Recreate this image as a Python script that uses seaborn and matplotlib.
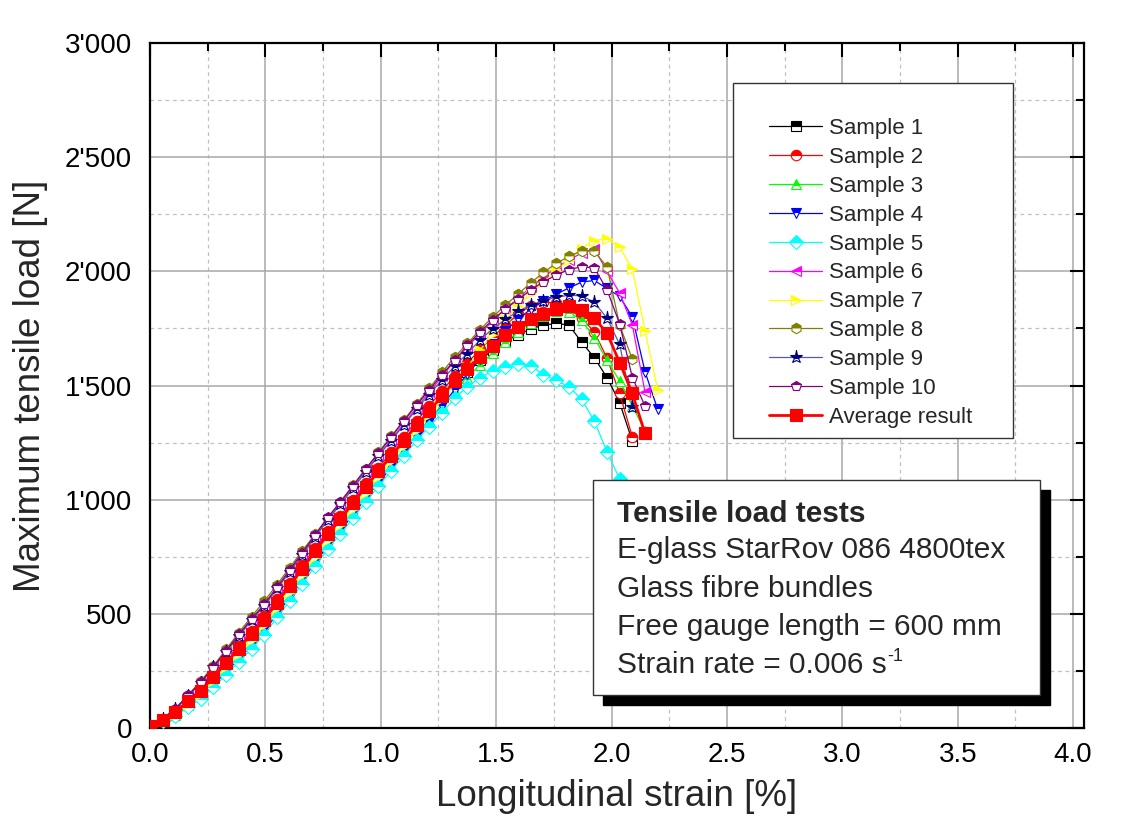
import numpy as np
import pandas as pd
import matplotlib
matplotlib.use("Agg")
import matplotlib.pyplot as plt
from matplotlib.patches import Rectangle
from matplotlib.ticker import MultipleLocator, FuncFormatter
import seaborn as sns

# ---------------- data ----------------
strain = [0.000, 0.055, 0.110, 0.165, 0.220, 0.275, 0.330, 0.385, 0.440, 0.495,
          0.550, 0.605, 0.660, 0.715, 0.770, 0.825, 0.880, 0.935, 0.990, 1.045,
          1.100, 1.155, 1.210, 1.265, 1.320, 1.375, 1.430, 1.485, 1.540, 1.595,
          1.650, 1.705, 1.760, 1.815, 1.870, 1.925, 1.980, 2.035, 2.090, 2.145, 2.200]

sample1 = [10, 35, 69, 119, 166, 228, 289, 353, 417, 479, 554, 627, 702, 778, 853, 919, 990, 1060,
           1128, 1195, 1262, 1328, 1390, 1452, 1510, 1560, 1612, 1655, 1695, 1722, 1748, 1764, 1772,
           1765, 1690, 1622, 1535, 1425, 1256]
sample2 = [10, 37, 72, 123, 171, 235, 297, 361, 427, 489, 564, 637, 712, 788, 863, 929, 1000, 1071,
           1140, 1208, 1276, 1345, 1410, 1478, 1540, 1598, 1658, 1712, 1765, 1812, 1850, 1866, 1860,
           1835, 1795, 1735, 1620, 1465, 1275]
sample3 = [10, 31, 58, 101, 141, 196, 253, 312, 372, 434, 509, 582, 657, 733, 808, 874, 945, 1016,
           1084, 1151, 1218, 1286, 1350, 1415, 1475, 1535, 1590, 1642, 1690, 1735, 1775, 1805, 1825,
           1822, 1785, 1710, 1610, 1520, 1410, 1300]
sample4 = [10, 30, 56, 97, 136, 189, 245, 303, 362, 424, 499, 572, 647, 723, 798, 864, 935, 1006,
           1074, 1141, 1208, 1276, 1340, 1410, 1482, 1550, 1615, 1680, 1740, 1790, 1835, 1870, 1900,
           1927, 1953, 1960, 1925, 1890, 1800, 1560, 1395]
sample5 = [10, 29, 52, 91, 127, 178, 233, 290, 347, 409, 484, 557, 632, 708, 783, 849, 920, 991,
           1059, 1126, 1193, 1260, 1320, 1380, 1444, 1495, 1535, 1563, 1580, 1592, 1585, 1548, 1522,
           1495, 1440, 1345, 1210, 1090]
sample6 = [10, 41, 83, 141, 196, 266, 333, 402, 472, 535, 610, 684, 760, 836, 912, 980, 1052, 1124,
           1194, 1263, 1333, 1404, 1470, 1540, 1607, 1668, 1728, 1782, 1835, 1883, 1930, 1975, 2015,
           2050, 2080, 2100, 2000, 1905, 1765, 1470]
sample7 = [10, 32, 62, 107, 149, 207, 265, 326, 387, 449, 524, 597, 672, 748, 823, 889, 960, 1031,
           1100, 1168, 1237, 1305, 1370, 1440, 1510, 1580, 1655, 1725, 1790, 1850, 1905, 1952, 2003,
           2050, 2100, 2135, 2143, 2105, 2010, 1740, 1480]
sample8 = [10, 40, 85, 145, 205, 272, 345, 418, 488, 555, 628, 702, 776, 848, 920, 990, 1063, 1136,
           1207, 1277, 1348, 1420, 1487, 1558, 1625, 1684, 1745, 1800, 1852, 1900, 1950, 1995, 2035,
           2065, 2090, 2088, 2020, 1765, 1615]
sample9 = [10, 41, 83, 142, 197, 267, 335, 404, 474, 536, 611, 684, 759, 835, 912, 979, 1050, 1122,
           1191, 1259, 1327, 1396, 1460, 1525, 1585, 1640, 1700, 1748, 1790, 1825, 1852, 1872, 1887,
           1895, 1893, 1865, 1795, 1680, 1405]
sample10 = [10, 41, 84, 143, 200, 269, 338, 410, 478, 542, 617, 692, 768, 845, 922, 990, 1062, 1134,
            1204, 1274, 1345, 1415, 1480, 1548, 1610, 1676, 1735, 1788, 1835, 1877, 1918, 1955, 1983,
            2008, 2020, 2015, 1920, 1770, 1535, 1410]
average = [10, 35, 68, 117, 163, 224, 285, 348, 412, 474, 549, 622, 697, 773, 848, 914, 985, 1056,
           1124, 1191, 1258, 1326, 1388, 1455, 1518, 1571, 1627, 1674, 1719, 1757, 1790, 1815, 1836,
           1846, 1830, 1795, 1730, 1600, 1465, 1290]

series_labels = ["Sample 1", "Sample 2", "Sample 3", "Sample 4", "Sample 5", "Sample 6",
                 "Sample 7", "Sample 8", "Sample 9", "Sample 10", "Average result"]
series_values = [sample1, sample2, sample3, sample4, sample5, sample6,
                 sample7, sample8, sample9, sample10, average]

x_ticks = [0.0, 0.5, 1.0, 1.5, 2.0, 2.5, 3.0, 3.5, 4.0]
y_ticks = [0, 500, 1000, 1500, 2000, 2500, 3000]

info_lines = ["Tensile load tests", "E-glass StarRov 086 4800tex", "Glass fibre bundles",
              "Free gauge length = 600 mm", "Strain rate = 0.006 s"]
info_superscript = "-1"

# ---------------- styles ----------------
line_colors = ["#000000", "#ff0000", "#00ff00", "#0000ff", "#00ffff", "#ff00ff",
               "#ffff00", "#808000", "#5a5aaa", "#800080", "#ff0000"]
marker_colors = ["#000000", "#ff0000", "#00ff00", "#0000ff", "#00ffff", "#ff00ff",
                 "#ffff00", "#808000", "#000080", "#800080", "#ff0000"]
markers = ["s", "o", "^", "v", "D", "<", ">", "h", "*", "p", "s"]

sns.set_theme(style="white")
plt.rcParams["font.family"] = ["Liberation Sans", "DejaVu Sans"]

W, H = 1129, 831
fig = plt.figure(figsize=(W / 100, H / 100), dpi=100)
ax = fig.add_axes([150 / W, 1 - 728 / H, 934 / W, 685 / H])

for i, (lab, vals) in enumerate(zip(series_labels, series_values)):
    df = pd.DataFrame({"strain": strain[:len(vals)], "load": vals})
    is_avg = lab == "Average result"
    sns.lineplot(data=df, x="strain", y="load", ax=ax, sort=False, errorbar=None,
                 color=line_colors[i], lw=2.0 if is_avg else 0.9,
                 marker=markers[i],
                 markersize=(9 if is_avg else (9.5 if markers[i] == "*" else 7.5)),
                 markerfacecolor=marker_colors[i],
                 markeredgecolor=marker_colors[i],
                 markeredgewidth=0.8,
                 fillstyle="full" if is_avg else "top",
                 markerfacecoloralt="white",
                 label=lab, zorder=3 + i * 0.1)

ax.set_xlim(0, 4.047)
ax.set_ylim(0, 3000)
ax.set_xticks(x_ticks)
ax.set_yticks(y_ticks)
ax.xaxis.set_minor_locator(MultipleLocator(0.25))
ax.yaxis.set_minor_locator(MultipleLocator(250))
ax.xaxis.set_major_formatter(FuncFormatter(lambda v, p: f"{v:.1f}"))
ax.yaxis.set_major_formatter(FuncFormatter(lambda v, p: f"{int(round(v)):,}".replace(",", "'")))

ax.set_axisbelow(True)
ax.grid(which="major", color="#a8a8a8", lw=1.1, ls="-")
ax.grid(which="minor", color="#c0c0c0", lw=0.9, ls=(0, (3, 3)))

for sp in ax.spines.values():
    sp.set_color("black")
    sp.set_linewidth(1.6)
ax.tick_params(which="both", direction="in", top=True, right=True, colors="black", width=1.5)
ax.tick_params(which="major", length=10, labelsize=20)
ax.tick_params(axis="x", which="major", pad=10)
ax.tick_params(axis="y", which="major", pad=13)
ax.tick_params(which="minor", length=5.5)

ax.set_xlabel("Longitudinal strain [%]", fontsize=26.5, labelpad=8)
ax.set_ylabel("Maximum tensile load [N]", fontsize=26.5, labelpad=12)

# legend box
ax.add_patch(Rectangle((733 / W, 1 - 438 / H), 280 / W, 355 / H, transform=fig.transFigure,
                       facecolor="white", edgecolor="#333333", lw=1.0, zorder=4, clip_on=False))
h, l = ax.get_legend_handles_labels()
leg = ax.legend(h, l, loc="upper left", bbox_to_anchor=(769 / W, 1 - 118 / H),
                bbox_transform=fig.transFigure, frameon=False, fontsize=16,
                handlelength=2.4, handletextpad=0.3, labelspacing=0.355, borderpad=0,
                borderaxespad=0, numpoints=1)
leg.set_zorder(6)

# info box with shadow
ax.add_patch(Rectangle((603 / W, 1 - 705 / H), 447 / W, 215 / H, transform=fig.transFigure,
                       facecolor="black", edgecolor="black", lw=1, zorder=7, clip_on=False))
ax.add_patch(Rectangle((593 / W, 1 - 695 / H), 447 / W, 215 / H, transform=fig.transFigure,
                       facecolor="white", edgecolor="#333333", lw=1, zorder=8, clip_on=False))
baselines = [521.7, 558.3, 596.7, 635.0, 673.3]
last_txt = None
for k, (txt, yb) in enumerate(zip(info_lines, baselines)):
    last_txt = fig.text(617 / W, 1 - yb / H, txt, fontsize=21.5, va="baseline", ha="left",
                        fontweight="bold" if k == 0 else "normal", zorder=9)

fig.canvas.draw()
bb = last_txt.get_window_extent(renderer=fig.canvas.get_renderer())
fig.text((bb.x1 + 1) / W, (H - baselines[-1] + 12) / H, info_superscript, fontsize=13,
         va="baseline", ha="left", zorder=9)

fig.savefig("out.png", dpi=100)
